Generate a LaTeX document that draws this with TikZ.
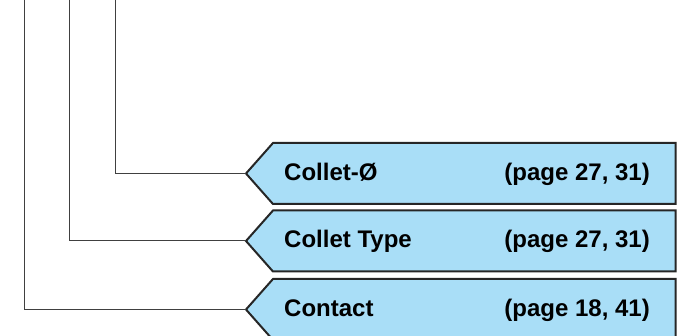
\documentclass[tikz,border=0pt]{standalone}
\usepackage{fontspec}
\setmainfont{Liberation Sans}
\usetikzlibrary{shapes.symbols}
\definecolor{tagblue}{HTML}{A9DEF7}
\definecolor{edgegray}{HTML}{262626}
\definecolor{wiregray}{HTML}{404040}

\begin{document}
\begin{tikzpicture}[x=1pt,y=-1pt,font=\fontsize{24}{28}\selectfont\bfseries,
  tag/.style={signal,signal from=nowhere,signal to=west,signal pointer angle=97,
    draw=edgegray,line width=2pt,fill=tagblue,minimum width=429.5pt,
    minimum height=61pt,inner sep=0pt,outer sep=0pt,anchor=west},
  wire/.style={wiregray,line width=1pt}]
  \useasboundingbox (0,0) rectangle (682,336);
  % tags with their leader lines from the top edge
  \foreach \n/\y/\x/\txt/\pg in {a/173.5/115/{Collet-Ø}/{27, 31},
      b/241/69/{Collet Type}/{27, 31},c/309.5/24.5/{Contact}/{18, 41}}{
    \node[tag] (tag\n) at (246,\y) {};
    \node[anchor=base west,inner sep=0pt] (lbl\n) at ([shift={(38pt,-7pt)}]tag\n.west) {\txt};
    \node[anchor=base east,inner sep=0pt] (pg\n) at ([shift={(-25.5pt,-7pt)}]tag\n.east) {(page \pg)};
    \coordinate (top\n) at (\x,0);
    \draw[wire] (top\n) |- (tag\n.west);
  }
\end{tikzpicture}
\end{document}
